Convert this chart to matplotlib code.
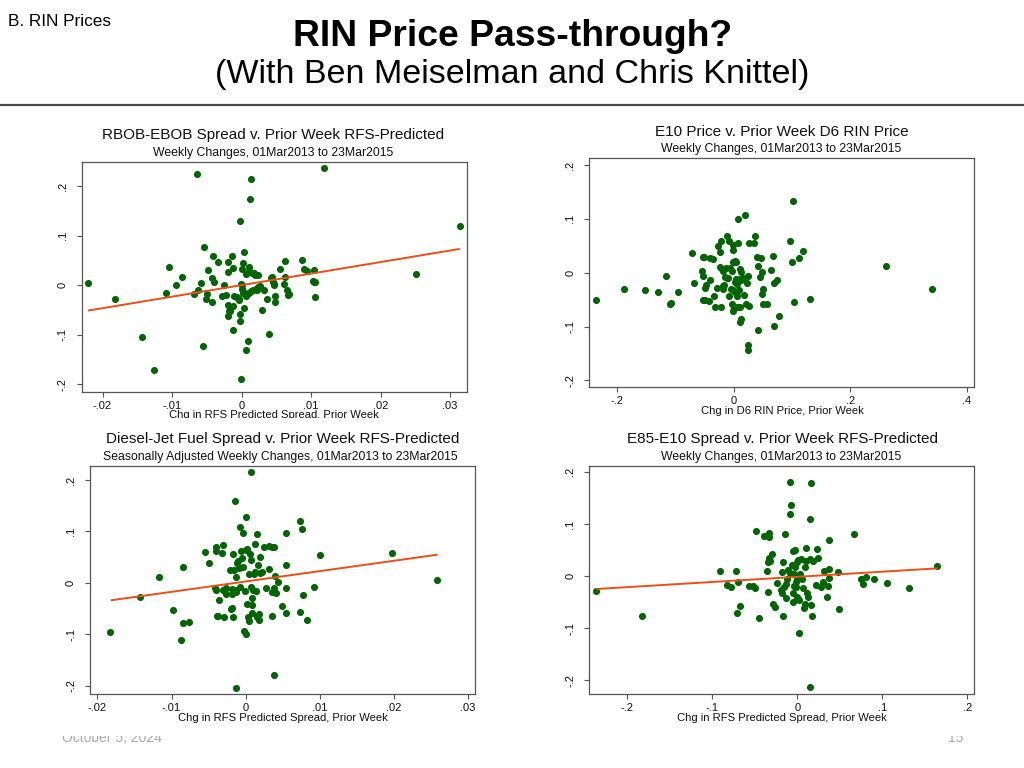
import matplotlib
matplotlib.use('Agg')
import matplotlib.pyplot as plt
from matplotlib.patches import Rectangle
from matplotlib.lines import Line2D

# ---------------- data ----------------
p1_points = [(-0.0221, 0.005), (-0.0182, -0.027), (-0.0143, -0.104), (-0.0126, -0.171), (-0.0108, -0.016),
             (-0.0105, 0.037), (-0.0094, 0.001), (-0.0086, 0.017), (-0.0068, -0.017), (-0.0064, 0.225),
             (-0.0063, -0.010), (-0.0058, 0.005), (-0.0056, -0.122), (-0.0054, 0.077), (-0.0051, -0.028),
             (-0.0049, -0.018), (-0.0048, 0.030), (-0.0042, -0.034), (-0.0041, 0.059), (-0.0042, 0.015),
             (-0.0039, 0.007), (-0.0034, 0.047), (-0.0025, 0.001), (-0.0028, -0.022), (-0.0022, -0.019),
             (-0.0020, 0.026), (-0.0019, -0.039), (-0.0020, -0.063), (-0.0018, -0.052), (-0.0019, 0.047),
             (-0.0017, -0.053), (-0.0014, 0.059), (-0.0013, 0.034), (-0.0013, -0.041), (-0.0012, -0.090),
             (-0.0011, -0.021), (-0.0007, -0.024), (-0.0005, -0.025), (-0.0003, -0.030), (-0.0003, -0.028),
             (-0.0002, 0.131), (-0.0002, -0.058), (-0.0002, -0.072), (-0.0001, 0.003), (-0.0001, -0.190),
             (0.0000, 0.001), (0.0001, 0.032), (0.0001, -0.008), (0.0002, 0.046), (0.0002, -0.016),
             (0.0003, -0.047), (0.0004, 0.068), (0.0005, -0.016), (0.0006, -0.022), (0.0007, -0.131),
             (0.0007, 0.022), (0.0009, -0.112), (0.0011, 0.029), (0.0011, 0.037), (0.0011, -0.015),
             (0.0012, 0.175), (0.0013, 0.215), (0.0014, -0.012), (0.0015, 0.025), (0.0017, -0.010),
             (0.0018, 0.024), (0.0020, 0.020), (0.0021, -0.007), (0.0022, -0.009), (0.0023, 0.020),
             (0.0024, -0.003), (0.0027, -0.001), (0.0029, -0.051), (0.0032, -0.009), (0.0037, -0.028),
             (0.0039, -0.099), (0.0043, 0.014), (0.0044, 0.016), (0.0045, 0.006), (0.0046, 0.000),
             (0.0047, 0.002), (0.0048, -0.022), (0.0048, -0.033), (0.0055, 0.032), (0.0061, 0.003),
             (0.0062, 0.017), (0.0063, 0.050), (0.0065, -0.010), (0.0067, -0.020), (0.0068, -0.018),
             (0.0087, 0.052), (0.0090, 0.032), (0.0094, 0.029), (0.0104, 0.031), (0.0103, 0.008),
             (0.0104, 0.007), (0.0106, 0.007), (0.0106, -0.023), (0.0119, 0.237), (0.0251, 0.022),
             (0.0314, 0.119)]
p1_fit_x = [-0.0221, 0.0314]
p1_fit_y = [-0.0513, 0.0735]

p2_points = [(-0.2356, -0.051), (-0.1882, -0.031), (-0.1516, -0.032), (-0.1298, -0.035), (-0.1155, -0.007),
             (-0.1098, -0.058), (-0.1081, -0.056), (-0.0961, -0.035), (-0.0709, 0.037), (-0.0681, -0.019),
             (-0.0538, 0.003), (-0.0532, 0.029), (-0.0526, -0.006), (-0.0520, -0.051), (-0.0509, 0.030),
             (-0.0498, -0.029), (-0.0498, -0.050), (-0.0469, -0.023), (-0.0429, -0.053), (-0.0406, -0.013),
             (-0.0400, 0.027), (-0.0355, 0.025), (-0.0343, -0.044), (-0.0326, -0.064), (-0.0286, -0.028),
             (-0.0263, 0.050), (-0.0234, 0.039), (-0.0234, 0.010), (-0.0217, 0.059), (-0.0212, -0.064),
             (-0.0200, 0.006), (-0.0189, -0.025), (-0.0183, 0.003), (-0.0177, -0.030), (-0.0160, -0.023),
             (-0.0143, -0.008), (-0.0137, 0.008), (-0.0120, 0.069), (-0.0114, -0.009), (-0.0097, -0.009),
             (-0.0086, 0.058), (-0.0074, -0.043), (-0.0057, 0.009), (-0.0046, -0.030), (-0.0029, 0.003),
             (-0.0029, -0.058), (-0.0017, 0.020), (-0.0011, 0.043), (-0.0006, 0.051), (-0.0006, -0.033),
             (-0.0006, -0.072), (0.0011, -0.066), (0.0017, -0.017), (0.0023, 0.022), (0.0029, -0.035),
             (0.0034, 0.020), (0.0046, -0.012), (0.0051, -0.021), (0.0057, -0.064), (0.0063, -0.043),
             (0.0069, 0.099), (0.0069, 0.056), (0.0086, -0.014), (0.0097, -0.032), (0.0103, 0.006),
             (0.0114, -0.064), (0.0114, -0.012), (0.0120, -0.086), (0.0114, -0.092), (0.0120, 0.002),
             (0.0126, -0.014), (0.0160, -0.009), (0.0177, -0.041), (0.0194, 0.108), (0.0212, -0.059),
             (0.0229, -0.020), (0.0246, -0.007), (0.0252, -0.134), (0.0252, -0.143), (0.0257, -0.062),
             (0.0263, 0.056), (0.0343, 0.055), (0.0372, 0.069), (0.0406, 0.029), (0.0423, 0.012),
             (0.0423, -0.107), (0.0452, -0.008), (0.0475, 0.028), (0.0480, 0.002), (0.0492, -0.039),
             (0.0498, -0.058), (0.0509, -0.031), (0.0566, -0.058), (0.0646, 0.005), (0.0681, 0.031),
             (0.0692, -0.019), (0.0698, -0.099), (0.0738, -0.013), (0.0772, -0.081), (0.0972, 0.059),
             (0.1007, 0.020), (0.1018, 0.134), (0.1041, -0.055), (0.1127, 0.027), (0.1190, 0.041),
             (0.1310, -0.048), (0.2614, 0.013), (0.3397, -0.030)]

p3_points = [(-0.0183, -0.095), (-0.0143, -0.027), (-0.0117, 0.012), (-0.0098, -0.052), (-0.0087, -0.111),
             (-0.0085, -0.078), (-0.0084, 0.032), (-0.0077, -0.076), (-0.0055, 0.060), (-0.0049, 0.039),
             (-0.0041, -0.010), (-0.0040, 0.069), (-0.0040, -0.014), (-0.0040, 0.063), (-0.0039, -0.065),
             (-0.0037, -0.064), (-0.0036, -0.034), (-0.0032, 0.059), (-0.0031, 0.074), (-0.0030, -0.014),
             (-0.0029, -0.067), (-0.0027, -0.022), (-0.0026, -0.010), (-0.0021, 0.026), (-0.0020, -0.051),
             (-0.0018, -0.048), (-0.0018, -0.022), (-0.0018, -0.012), (-0.0017, -0.066), (-0.0017, 0.056),
             (-0.0015, 0.025), (-0.0014, 0.160), (-0.0013, -0.017), (-0.0013, 0.012), (-0.0013, -0.203),
             (-0.0013, -0.014), (-0.0011, 0.038), (-0.0010, 0.043), (-0.0009, 0.030), (-0.0008, -0.007),
             (-0.0007, 0.109), (-0.0006, 0.062), (-0.0005, 0.048), (-0.0003, 0.032), (-0.0003, 0.098),
             (-0.0002, -0.093), (-0.0001, -0.016), (0.0000, -0.100), (0.0000, 0.065), (0.0001, 0.128),
             (0.0002, 0.066), (0.0002, -0.041), (0.0003, -0.067), (0.0004, -0.074), (0.0005, 0.017),
             (0.0006, 0.056), (0.0007, 0.045), (0.0007, 0.216), (0.0007, -0.007), (0.0008, -0.030),
             (0.0009, -0.043), (0.0009, -0.059), (0.0010, -0.013), (0.0012, 0.018), (0.0013, 0.076),
             (0.0013, 0.022), (0.0014, -0.016), (0.0015, -0.067), (0.0016, 0.096), (0.0017, 0.035),
             (0.0018, -0.061), (0.0018, -0.071), (0.0019, 0.051), (0.0020, 0.020), (0.0022, 0.022),
             (0.0025, 0.070), (0.0027, -0.010), (0.0032, 0.027), (0.0032, 0.071), (0.0036, 0.070),
             (0.0036, -0.065), (0.0036, -0.017), (0.0039, 0.069), (0.0038, -0.179), (0.0039, -0.009),
             (0.0040, 0.013), (0.0041, -0.019), (0.0044, 0.001), (0.0049, -0.044), (0.0054, 0.034),
             (0.0054, -0.058), (0.0054, -0.010), (0.0055, 0.098), (0.0073, -0.057), (0.0074, 0.120),
             (0.0076, 0.104), (0.0077, -0.023), (0.0083, -0.072), (0.0092, -0.007), (0.0100, 0.054),
             (0.0197, 0.059), (0.0258, 0.005)]
p3_fit_x = [-0.0182, 0.0259]
p3_fit_y = [-0.0337, 0.0550]

p4_points = [(-0.2362, -0.029), (-0.1822, -0.076), (-0.0909, 0.010), (-0.0827, -0.018), (-0.0784, -0.022),
             (-0.0725, 0.010), (-0.0713, -0.072), (-0.0697, -0.011), (-0.0678, -0.058), (-0.0564, -0.020),
             (-0.0517, -0.019), (-0.0494, -0.024), (-0.0486, 0.086), (-0.0451, -0.080), (-0.0396, 0.076),
             (-0.0357, 0.010), (-0.0345, 0.027), (-0.0341, -0.030), (-0.0337, 0.083), (-0.0337, 0.074),
             (-0.0333, 0.035), (-0.0317, 0.028), (-0.0302, 0.042), (-0.0290, -0.054), (-0.0262, -0.060),
             (-0.0239, -0.013), (-0.0196, -0.027), (-0.0180, -0.032), (-0.0176, 0.008), (-0.0172, -0.077),
             (-0.0168, 0.027), (-0.0153, -0.022), (-0.0149, 0.080), (-0.0137, -0.043), (-0.0133, -0.015),
             (-0.0121, -0.006), (-0.0110, 0.012), (-0.0090, 0.006), (-0.0086, 0.180), (-0.0082, 0.120),
             (-0.0074, 0.137), (-0.0067, 0.022), (-0.0055, -0.033), (-0.0055, 0.048), (-0.0047, -0.049),
             (-0.0039, -0.019), (-0.0039, 0.003), (-0.0031, 0.017), (-0.0024, 0.050), (-0.0016, -0.011),
             (-0.0012, -0.022), (-0.0008, 0.026), (-0.0004, -0.005), (0.0000, -0.041), (0.0008, 0.031),
             (0.0016, -0.109), (0.0024, -0.047), (0.0035, 0.004), (0.0039, 0.032), (0.0059, -0.005),
             (0.0067, -0.024), (0.0082, -0.062), (0.0090, -0.054), (0.0094, 0.017), (0.0098, 0.029),
             (0.0106, 0.053), (0.0114, -0.032), (0.0125, -0.041), (0.0145, 0.032), (0.0153, -0.214),
             (0.0153, 0.110), (0.0161, 0.179), (0.0161, -0.056), (0.0176, -0.077), (0.0188, 0.029),
             (0.0219, -0.017), (0.0235, 0.051), (0.0239, 0.035), (0.0278, -0.022), (0.0298, -0.011),
             (0.0313, 0.009), (0.0345, -0.041), (0.0360, -0.019), (0.0368, 0.013), (0.0372, 0.069),
             (0.0376, -0.003), (0.0474, 0.008), (0.0490, -0.064), (0.0666, 0.081), (0.0744, -0.005),
             (0.0776, -0.015), (0.0803, -0.001), (0.0905, -0.005), (0.1058, -0.013), (0.1316, -0.024),
             (0.1642, 0.019)]
p4_fit_x = [-0.2362, 0.1649]
p4_fit_y = [-0.0250, 0.0147]

spread_xticks = [-0.02, -0.01, 0, 0.01, 0.02, 0.03]
spread_xlabels = ['-.02', '-.01', '0', '.01', '.02', '.03']
rin_xticks = [-0.2, 0, 0.2, 0.4]
rin_xlabels = ['-.2', '0', '.2', '.4']
e85_xticks = [-0.2, -0.1, 0, 0.1, 0.2]
e85_xlabels = ['-.2', '-.1', '0', '.1', '.2']
yticks = [-0.2, -0.1, 0, 0.1, 0.2]
ylabels = ['-.2', '-.1', '0', '.1', '.2']

titles = ['RBOB-EBOB Spread v. Prior Week RFS-Predicted',
          'E10 Price v. Prior Week D6 RIN Price',
          'Diesel-Jet Fuel Spread v. Prior Week RFS-Predicted',
          'E85-E10 Spread v. Prior Week RFS-Predicted']
subtitles = ['Weekly Changes, 01Mar2013 to 23Mar2015',
             'Weekly Changes, 01Mar2013 to 23Mar2015',
             'Seasonally Adjusted Weekly Changes, 01Mar2013 to 23Mar2015',
             'Weekly Changes, 01Mar2013 to 23Mar2015']
xlabel_spread = 'Chg in RFS Predicted Spread, Prior Week'
xlabel_rin = 'Chg in D6 RIN Price, Prior Week'

# ---------------- style ----------------
W, H = 1024, 768
DOT = '#006400'
LINE = '#e8501a'
FRAME = '#555555'

plt.rcParams['font.family'] = ['Liberation Sans', 'DejaVu Sans']
fig = plt.figure(figsize=(W / 100, H / 100), dpi=100)
fig.patch.set_facecolor('white')


def fx(x):
    return x / W


def fy(y):
    return 1 - y / H


def panel(l, t, r, b, pts, xlim, ylim, xt, xl, fit_x=None, fit_y=None):
    ax = fig.add_axes([fx(l), fy(b), (r - l) / W, (b - t) / H])
    xs = [p[0] for p in pts]
    ys = [p[1] for p in pts]
    ax.scatter(xs, ys, s=26, color=DOT, linewidths=0, zorder=2)
    if fit_x is not None:
        ax.plot(fit_x, fit_y, color=LINE, lw=1.4, zorder=3, solid_capstyle='butt')
    ax.set_xlim(xlim)
    ax.set_ylim(ylim)
    ax.set_xticks(xt, xl)
    ax.set_yticks(yticks, ylabels)
    for s in ax.spines.values():
        s.set_color(FRAME)
        s.set_linewidth(0.9)
    ax.tick_params(direction='out', length=3.5, width=0.8, color=FRAME, labelsize=8, labelcolor='#111111')
    ax.tick_params(axis='x', pad=3)
    ax.tick_params(axis='y', pad=6.5)
    for lab in ax.get_yticklabels():
        lab.set_rotation(90)
        lab.set_va('center')
    return ax


panel(81.7, 161.7, 466.7, 391.7, p1_points, (-0.0230, 0.0324), (-0.2154, 0.2500),
      spread_xticks, spread_xlabels, p1_fit_x, p1_fit_y)
panel(589.3, 158.3, 974.3, 386.7, p2_points, (-0.2476, 0.4129), (-0.2118, 0.2124),
      rin_xticks, rin_xlabels)
panel(90.0, 465.7, 475.3, 694.3, p3_points, (-0.0210, 0.0310), (-0.2162, 0.2278),
      spread_xticks, spread_xlabels, p3_fit_x, p3_fit_y)
panel(589.3, 465.7, 974.3, 694.3, p4_points, (-0.2445, 0.2080), (-0.2272, 0.2118),
      e85_xticks, e85_xlabels, p4_fit_x, p4_fit_y)

# panel titles, subtitles, x labels
title_pos = [(273, 135), (782, 131.7), (283, 439), (782.7, 439)]
sub_pos = [(272.7, 153), (780.7, 149.3), (280.7, 457), (780.7, 457)]
xlab_pos = [(273.7, 415), (782, 411), (282.7, 718), (782, 718)]
xlab_txt = [xlabel_spread, xlabel_rin, xlabel_spread, xlabel_spread]
for i in range(4):
    fig.text(fx(title_pos[i][0]), fy(title_pos[i][1]), titles[i], ha='center', va='center',
             fontsize=11, color='#111111')
    fig.text(fx(sub_pos[i][0]), fy(sub_pos[i][1]), subtitles[i], ha='center', va='center',
             fontsize=8.8, color='#111111')
    fig.text(fx(xlab_pos[i][0]), fy(xlab_pos[i][1]), xlab_txt[i], ha='center', va='center',
             fontsize=8.1, color='#111111')

# slide header
fig.text(fx(8), fy(22), 'B. RIN Prices', ha='left', va='center', fontsize=12.4)
fig.text(fx(513), fy(37), 'RIN Price Pass-through?', ha='center', va='center', fontsize=26.8,
         fontweight='bold')
fig.text(fx(512), fy(74), '(With Ben Meiselman and Chris Knittel)', ha='center', va='center',
         fontsize=24.5)
fig.add_artist(Line2D([0, 1], [fy(104.5), fy(104.5)], transform=fig.transFigure,
                      color='#4a4a4a', lw=1.6))

# footer (partly hidden behind the chart area in the original)
fig.text(fx(62), fy(742), 'October 5, 2024', ha='left', va='baseline', fontsize=10, color='#aaaaaa')
fig.text(fx(956), fy(742), '15', ha='center', va='baseline', fontsize=10, color='#aaaaaa')
fig.add_artist(Rectangle((fx(40), fy(735.5)), (1000 - 40) / W, (735.5 - 724) / H,
                         transform=fig.transFigure, facecolor='white', edgecolor='none', zorder=10))
fig.add_artist(Rectangle((fx(40), fy(428)), (500 - 40) / W, (428 - 418) / H,
                         transform=fig.transFigure, facecolor='white', edgecolor='none', zorder=10))

fig.savefig('out.png', dpi=100, facecolor='white')
